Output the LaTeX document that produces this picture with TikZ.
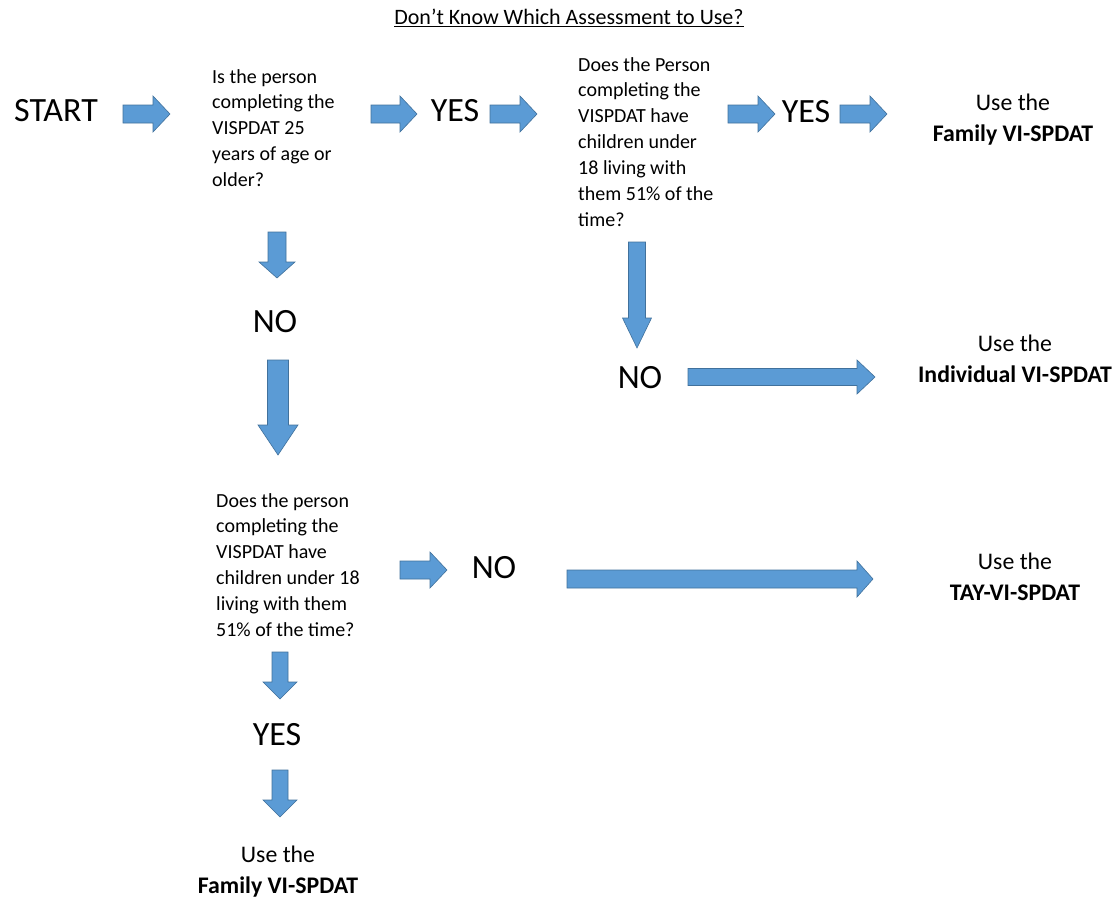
\documentclass[tikz,border=0pt]{standalone}
\usepackage{fontspec}
\setmainfont{Carlito}
\usetikzlibrary{calc}
\definecolor{arrfill}{HTML}{5B9BD5}
\definecolor{arredge}{HTML}{41719C}
\tikzset{
  blockarr/.style={draw=arredge, line width=0.6pt, fill=arrfill, line join=miter},
  bigword/.style={inner sep=0pt, font=\fontsize{34}{40}\selectfont},
  question/.style={inner sep=0pt, anchor=north west, align=left, font=\fontsize{20}{25.9}\selectfont},
  result/.style={inner sep=0pt, align=center, font=\fontsize{23.8}{31}\selectfont},
}
\newcommand\blockarrow[5]{%
  \path[blockarr] let \p1=(#1), \p2=(#2), \n1={atan2(\y2-\y1,\x2-\x1)} in
    ($(\p1)+(\n1+90:#3)$) -- ($(\p2)+(\n1+180:#5)+(\n1+90:#3)$) --
    ($(\p2)+(\n1+180:#5)+(\n1+90:#4)$) -- (\p2) --
    ($(\p2)+(\n1+180:#5)+(\n1-90:#4)$) -- ($(\p2)+(\n1+180:#5)+(\n1-90:#3)$) --
    ($(\p1)+(\n1-90:#3)$) -- cycle;}
\begin{document}
\begin{tikzpicture}[x=1pt,y=-1pt]
\useasboundingbox (0,0) rectangle (1115,899);
% title
\node[inner sep=0pt, font=\fontsize{22}{26}\selectfont] (title) at (569,18) {\underline{Don’t Know Which Assessment to Use?}};
% texts
\node[bigword] (start) at (56,111) {START};
\node[question] (q1) at (212,69) {Is the person\\completing the\\VISPDAT 25\\years of age or\\older?};
\node[bigword] (yes1) at (455,111) {YES};
\node[question] (q2) at (578,57) {Does the Person\\completing the\\VISPDAT have\\children under\\18 living with\\them 51\% of the\\time?};
\node[bigword] (yes2) at (806,112) {YES};
\node[result] (fam1) at (1013,120) {Use the\\\textbf{Family VI-SPDAT}};
\node[bigword] (no1) at (275,322) {NO};
\node[bigword] (no2) at (640,378) {NO};
\node[result] (ind) at (1015,359) {Use the\\\textbf{Individual VI-SPDAT}};
\node[question] (q3) at (216,493) {Does the person\\completing the\\VISPDAT have\\children under 18\\living with them\\51\% of the time?};
\node[bigword] (no3) at (494,568) {NO};
\node[result] (tay) at (1015,577) {Use the\\\textbf{TAY-VI-SPDAT}};
\node[bigword] (yes3) at (277,735) {YES};
\node[result] (fam2) at (278,872) {Use the\\\textbf{Family VI-SPDAT}};
% arrow end points
\coordinate (a1s) at (123,114); \coordinate (a1e) at (170,114);
\coordinate (a2s) at (371,114); \coordinate (a2e) at (417,114);
\coordinate (a3s) at (490,114); \coordinate (a3e) at (537,114);
\coordinate (a4s) at (728,114); \coordinate (a4e) at (775,114);
\coordinate (a5s) at (840,114); \coordinate (a5e) at (887,114);
\coordinate (d1s) at (277,232); \coordinate (d1e) at (277,278);
\coordinate (d2s) at (278,360); \coordinate (d2e) at (278,455);
\coordinate (d3s) at (637,242); \coordinate (d3e) at (637,348);
\coordinate (h1s) at (688,377); \coordinate (h1e) at (875,377);
\coordinate (h2s) at (400,570); \coordinate (h2e) at (447,570);
\coordinate (h3s) at (567,579); \coordinate (h3e) at (873,579);
\coordinate (d4s) at (280,652); \coordinate (d4e) at (280,699);
\coordinate (d5s) at (280,770); \coordinate (d5e) at (280,817);
% arrows
\blockarrow{a1s}{a1e}{9pt}{18pt}{17pt}
\blockarrow{a2s}{a2e}{9pt}{18pt}{17pt}
\blockarrow{a3s}{a3e}{9pt}{18pt}{17pt}
\blockarrow{a4s}{a4e}{9pt}{18pt}{17pt}
\blockarrow{a5s}{a5e}{9pt}{18pt}{17pt}
\blockarrow{d1s}{d1e}{9pt}{18pt}{16pt}
\blockarrow{d2s}{d2e}{10.5pt}{20pt}{30pt}
\blockarrow{d3s}{d3e}{8.5pt}{14.5pt}{30pt}
\blockarrow{h1s}{h1e}{8.5pt}{17pt}{18pt}
\blockarrow{h2s}{h2e}{9pt}{18pt}{17pt}
\blockarrow{h3s}{h3e}{9pt}{18pt}{16pt}
\blockarrow{d4s}{d4e}{8pt}{17pt}{17pt}
\blockarrow{d5s}{d5e}{8pt}{17pt}{17pt}
\end{tikzpicture}
\end{document}
